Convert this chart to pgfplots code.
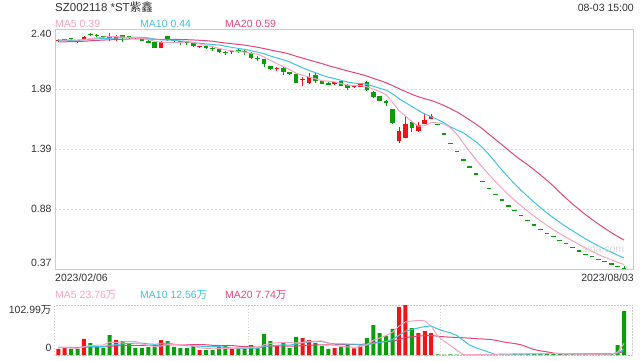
\documentclass[border=0pt]{standalone}
\usepackage{pgfplots}
\pgfplotsset{compat=1.18}
\usepackage{pgfplotstable}
\usepackage{fontspec}
\setmainfont{Liberation Sans}
\newfontfamily\cjk{Noto Sans CJK SC}
\definecolor{maA}{HTML}{F7A3C0}
\definecolor{maB}{HTML}{3EC4E4}
\definecolor{maC}{HTML}{E5457E}
\definecolor{up}{HTML}{F01414}
\definecolor{dn}{HTML}{0A9E0A}
\definecolor{txt}{HTML}{333333}
\definecolor{frame}{HTML}{CCCCCC}
\definecolor{gridc}{HTML}{DDDDDD}

\pgfplotstableread{
i O H L C V m5 m10 m20 v5 v10 v20 s
0 2.300 2.315 2.295 2.310 12.4 2.310 2.305 2.293 15.28 15.64 15.82 1
1 2.305 2.312 2.298 2.305 15.0 2.309 2.306 2.294 15.08 15.54 15.77 1
2 2.320 2.325 2.310 2.315 12.4 2.310 2.307 2.296 14.36 15.18 15.59 -1
3 2.305 2.310 2.285 2.300 12.4 2.308 2.307 2.297 13.64 14.82 15.41 -1
4 2.318 2.340 2.315 2.335 33.0 2.313 2.311 2.299 17.04 16.52 16.26 1
5 2.360 2.370 2.340 2.350 24.7 2.321 2.316 2.303 19.50 17.39 16.70 -1
6 2.355 2.358 2.335 2.345 18.5 2.329 2.319 2.306 20.20 17.64 16.82 -1
7 2.340 2.345 2.320 2.335 14.4 2.333 2.322 2.309 20.60 17.48 16.74 -1
8 2.335 2.370 2.300 2.330 41.2 2.339 2.324 2.311 26.36 20.00 18.00 -1
9 2.320 2.355 2.300 2.335 30.9 2.339 2.326 2.314 25.94 21.49 18.75 1
10 2.350 2.352 2.290 2.325 28.8 2.334 2.328 2.316 26.76 23.13 19.39 -1
11 2.335 2.345 2.320 2.330 24.7 2.331 2.330 2.318 28.00 24.10 19.82 -1
12 2.330 2.335 2.315 2.325 14.4 2.329 2.331 2.319 28.00 24.30 19.74 -1
13 2.315 2.320 2.300 2.305 14.4 2.324 2.332 2.319 22.64 24.50 19.66 -1
14 2.305 2.310 2.280 2.285 16.5 2.314 2.327 2.319 19.76 22.85 19.69 -1
15 2.290 2.295 2.240 2.245 16.5 2.298 2.316 2.316 17.30 22.03 19.71 -1
16 2.245 2.300 2.240 2.295 30.9 2.291 2.311 2.315 18.54 23.27 20.46 1
17 2.340 2.345 2.305 2.315 28.8 2.289 2.309 2.315 21.42 24.71 21.10 -1
18 2.315 2.320 2.285 2.300 16.5 2.288 2.306 2.315 21.84 22.24 21.12 -1
19 2.292 2.300 2.270 2.287 14.4 2.288 2.301 2.314 21.42 20.59 21.04 -1
20 2.285 2.290 2.270 2.280 14.4 2.295 2.297 2.312 21.00 19.15 21.14 -1
21 2.280 2.290 2.250 2.255 18.5 2.287 2.289 2.310 18.52 18.53 21.32 -1
22 2.250 2.262 2.238 2.255 10.3 2.275 2.282 2.307 14.82 18.12 21.21 1
23 2.250 2.262 2.235 2.245 10.3 2.264 2.276 2.304 13.58 17.71 21.11 -1
24 2.240 2.250 2.220 2.230 10.3 2.253 2.271 2.299 12.76 17.09 19.97 -1
25 2.230 2.235 2.200 2.205 16.5 2.238 2.267 2.291 13.18 17.09 19.56 -1
26 2.208 2.215 2.180 2.200 18.5 2.227 2.257 2.284 13.18 15.85 19.56 -1
27 2.205 2.225 2.190 2.210 12.4 2.218 2.247 2.278 13.60 14.21 19.46 1
28 2.220 2.235 2.200 2.215 14.4 2.212 2.238 2.272 14.42 14.00 18.12 -1
29 2.212 2.225 2.185 2.205 12.4 2.207 2.230 2.266 14.84 13.80 17.20 -1
30 2.200 2.205 2.150 2.160 20.6 2.198 2.218 2.257 15.66 14.42 16.79 -1
31 2.158 2.170 2.135 2.150 14.4 2.188 2.208 2.248 14.84 14.01 16.27 -1
32 2.150 2.152 2.080 2.105 43.3 2.167 2.193 2.237 21.02 17.31 17.72 -1
33 2.090 2.092 2.058 2.060 28.8 2.136 2.174 2.225 23.90 19.16 18.44 -1
34 2.065 2.085 2.045 2.070 18.5 2.109 2.158 2.214 25.12 19.98 18.54 1
35 2.075 2.080 2.013 2.040 24.7 2.085 2.142 2.204 25.94 20.80 18.95 -1
36 2.036 2.040 2.015 2.020 14.4 2.059 2.124 2.190 25.94 20.39 18.12 -1
37 2.020 2.022 1.945 1.950 37.1 2.028 2.098 2.172 24.70 22.86 18.54 -1
38 1.970 2.000 1.920 1.975 35.0 2.011 2.074 2.156 25.94 24.92 19.46 1
39 1.943 2.033 1.935 1.994 30.9 1.996 2.052 2.141 28.42 26.77 20.29 1
40 2.010 2.030 1.950 1.965 24.7 1.981 2.033 2.125 28.42 27.18 20.80 -1
41 1.965 1.970 1.935 1.940 18.5 1.965 2.012 2.110 29.24 27.59 20.80 -1
42 1.950 1.955 1.925 1.930 12.4 1.961 1.994 2.093 24.30 24.50 20.91 -1
43 1.940 1.955 1.925 1.945 14.4 1.955 1.983 2.078 20.18 23.06 21.11 1
44 1.965 1.970 1.918 1.923 16.5 1.941 1.968 2.063 17.30 22.86 21.42 -1
45 1.930 1.935 1.886 1.900 22.0 1.928 1.954 2.048 16.76 22.59 21.70 -1
46 1.912 1.922 1.905 1.915 13.8 1.923 1.944 2.034 15.82 22.53 21.46 1
47 1.915 1.948 1.912 1.943 19.2 1.925 1.943 2.020 17.18 20.74 21.80 1
48 1.957 1.965 1.880 1.887 35.0 1.914 1.934 2.004 21.30 20.74 22.83 -1
49 1.872 1.875 1.820 1.830 61.8 1.895 1.918 1.985 30.36 23.83 25.30 -1
50 1.836 1.840 1.790 1.796 45.3 1.874 1.901 1.967 35.02 25.89 26.54 -1
51 1.785 1.800 1.750 1.780 39.1 1.847 1.885 1.948 40.08 27.95 27.77 -1
52 1.723 1.725 1.600 1.610 53.6 1.781 1.853 1.924 46.96 32.07 28.29 -1
53 1.453 1.571 1.440 1.542 98.9 1.712 1.813 1.898 59.74 40.52 31.79 1
54 1.478 1.667 1.478 1.600 102.99 1.666 1.780 1.874 67.98 49.17 36.02 1
55 1.613 1.620 1.534 1.563 55.6 1.619 1.747 1.850 70.04 52.53 37.56 -1
56 1.542 1.618 1.534 1.590 45.3 1.581 1.714 1.829 71.28 55.68 39.11 1
57 1.600 1.690 1.595 1.633 49.4 1.586 1.683 1.813 70.44 58.70 39.72 1
58 1.641 1.684 1.640 1.670 45.3 1.611 1.661 1.798 59.72 59.73 40.24 1
59 1.59 1.59 1.59 1.59 1.5 1.609 1.637 1.778 39.42 53.70 38.77 -1
60 1.51 1.51 1.51 1.51 0.8 1.599 1.609 1.755 28.46 49.25 37.57 -1
61 1.43 1.43 1.43 1.43 1.2 1.567 1.574 1.729 19.64 45.46 36.71 -1
62 1.36 1.36 1.36 1.36 1.0 1.512 1.549 1.701 9.96 40.20 36.14 -1
63 1.29 1.29 1.29 1.29 0.6 1.436 1.524 1.668 1.02 30.37 35.45 -1
64 1.23 1.23 1.23 1.23 1.4 1.364 1.487 1.633 1.00 20.21 34.69 -1
65 1.17 1.17 1.17 1.17 1.0 1.296 1.447 1.597 1.04 14.75 33.64 -1
66 1.11 1.11 1.11 1.11 1.2 1.232 1.399 1.557 1.04 10.34 33.01 -1
67 1.05 1.05 1.05 1.05 1.5 1.170 1.341 1.512 1.14 5.55 32.13 -1
68 1.00 1.00 1.00 1.00 2.0 1.112 1.274 1.468 1.42 1.22 30.48 -1
69 0.95 0.95 0.95 0.95 2.5 1.056 1.210 1.424 1.64 1.32 27.51 -1
70 0.90 0.90 0.90 0.90 2.0 1.002 1.149 1.379 1.84 1.44 25.35 -1
71 0.86 0.86 0.86 0.86 3.0 0.952 1.092 1.333 2.20 1.62 23.54 -1
72 0.82 0.82 0.82 0.82 2.5 0.906 1.038 1.293 2.40 1.77 20.99 -1
73 0.78 0.78 0.78 0.78 3.0 0.862 0.987 1.255 2.60 2.01 16.19 -1
74 0.74 0.74 0.74 0.74 3.5 0.820 0.938 1.212 2.80 2.22 11.22 -1
75 0.70 0.70 0.70 0.70 2.5 0.780 0.891 1.169 2.90 2.37 8.56 -1
76 0.67 0.67 0.67 0.67 4.0 0.742 0.847 1.123 3.10 2.65 6.50 -1
77 0.64 0.64 0.64 0.64 2.5 0.706 0.806 1.074 3.10 2.75 4.15 -1
78 0.61 0.61 0.61 0.61 3.7 0.672 0.767 1.021 3.24 2.92 2.07 -1
79 0.58 0.58 0.58 0.58 1.5 0.640 0.730 0.970 2.84 2.82 2.07 -1
80 0.55 0.55 0.55 0.55 1.2 0.610 0.695 0.922 2.58 2.74 2.09 -1
81 0.52 0.52 0.52 0.52 1.5 0.580 0.661 0.877 2.08 2.59 2.11 -1
82 0.49 0.49 0.49 0.49 1.3 0.550 0.628 0.833 1.84 2.47 2.12 -1
83 0.47 0.47 0.47 0.47 1.3 0.522 0.597 0.792 1.36 2.30 2.16 -1
84 0.45 0.45 0.45 0.45 2.5 0.496 0.568 0.753 1.56 2.20 2.21 -1
85 0.43 0.43 0.43 0.43 2.6 0.472 0.541 0.716 1.84 2.21 2.29 -1
86 0.41 0.41 0.41 0.41 2.5 0.450 0.515 0.681 2.04 2.06 2.36 -1
87 0.39 0.39 0.39 0.39 20.6 0.430 0.490 0.648 5.90 3.87 3.31 -1
88 0.375 0.40 0.37 0.37 90.6 0.410 0.466 0.617 23.76 12.56 7.74 -1
}\data

\pgfplotsset{
  upday/.style={restrict expr to domain={\thisrow{s}}{0.5:1.5}},
  downday/.style={restrict expr to domain={\thisrow{s}}{-1.5:-0.5}},
  candle/.style 2 args={only marks, mark size=0pt, mark options={draw=none, fill=none}, forget plot,
      error bars/y dir=plus, error bars/y explicit, error bars/error mark=none,
      error bars/error bar style={line width=#2, draw=#1, solid}},
}

\begin{document}
\begin{tikzpicture}[font=\fontsize{10.5}{12}\selectfont]
\useasboundingbox (0,0) rectangle (640pt,360pt);

\begin{axis}[
  at={(55pt,90.7pt)}, anchor=south west, scale only axis,
  width=578pt, height=240pt,
  xmin=-0.51, xmax=89.39, ymin=0.37, ymax=2.40,
  axis line style={draw=frame, line width=0.9pt},
  xtick=\empty,
  ytick={0.8775,1.385,1.8925}, yticklabels={0.88,1.39,1.89},
  extra y ticks={0.421,2.36}, extra y tick labels={0.37,2.40},
  extra y tick style={grid=none},
  ymajorgrids, grid style={draw=gridc, line width=1.3pt, dash pattern=on 2pt off 2pt},
  tick style={draw=none}, major tick length=0pt,
  tick label style={text=txt, font=\fontsize{10.5}{12}\selectfont},
]
% wicks
\addplot[upday, candle={up}{0.9pt}] table[x=i, y=L, y error plus expr={\thisrow{H}-\thisrow{L}}]{\data};
\addplot[downday, candle={dn}{0.9pt}] table[x=i, y=L, y error plus expr={\thisrow{H}-\thisrow{L}}]{\data};
% bodies
\addplot[upday, candle={up}{4.6pt}] table[x=i, y expr={min(\thisrow{O},\thisrow{C})}, y error plus expr={max(abs(\thisrow{C}-\thisrow{O}),0.011)}]{\data};
\addplot[downday, candle={dn}{4.6pt}] table[x=i, y expr={min(\thisrow{O},\thisrow{C})}, y error plus expr={max(abs(\thisrow{C}-\thisrow{O}),0.011)}]{\data};
% moving averages
\addplot[no marks, maC, line width=1pt] table[x=i, y=m20]{\data};
\addplot[no marks, maB, line width=1pt] table[x=i, y=m10]{\data};
\addplot[no marks, maA, line width=1pt] table[x=i, y=m5]{\data};
\end{axis}

\begin{axis}[
  at={(55pt,5pt)}, anchor=south west, scale only axis,
  width=578pt, height=50pt,
  xmin=-0.51, xmax=89.39, ymin=0, ymax=102.99,
  axis line style={draw=frame, line width=1pt, dash pattern=on 1.5pt off 1.5pt},
  xtick={29.5,59.5}, xticklabels={{},{}},
  xmajorgrids, grid style={draw=frame, line width=0.8pt, dash pattern=on 1.5pt off 1.5pt},
  ytick=\empty,
  extra y ticks={14.4,92}, extra y tick labels={0,102.99{\cjk 万}},
  extra y tick style={grid=none},
  tick style={draw=none}, major tick length=0pt,
  tick label style={text=txt, font=\fontsize{10.5}{12}\selectfont},
]
\addplot[ybar, bar width=4pt, bar shift=0pt, fill=up, draw=none, upday] table[x=i, y=V]{\data};
\addplot[ybar, bar width=4pt, bar shift=0pt, fill=dn, draw=none, downday] table[x=i, y=V]{\data};
\addplot[no marks, maC, line width=1pt] table[x=i, y=v20]{\data};
\addplot[no marks, maB, line width=1pt] table[x=i, y=v10]{\data};
\addplot[no marks, maA, line width=1pt] table[x=i, y=v5]{\data};
\end{axis}

% header and labels
\node[anchor=base west, inner sep=0pt, text=txt, font=\fontsize{11.5}{13}\selectfont] at (55pt,348.5pt) {SZ002118 *ST{\cjk 紫鑫}};
\node[anchor=base east, inner sep=0pt, text=txt] at (634pt,349pt) {08-03 15:00};
\node[anchor=base west, inner sep=0pt, text=maA] at (55pt,332.5pt) {MA5 0.39};
\node[anchor=base west, inner sep=0pt, text=maB] at (140pt,332.5pt) {MA10 0.44};
\node[anchor=base west, inner sep=0pt, text=maC] at (225pt,332.5pt) {MA20 0.59};
\node[anchor=base west, inner sep=0pt, text=txt] at (55pt,78.3pt) {2023/02/06};
\node[anchor=base east, inner sep=0pt, text=txt] at (634pt,78.3pt) {2023/08/03};
\node[anchor=base west, inner sep=0pt, text=maA] at (55pt,61.7pt) {MA5 23.76{\cjk 万}};
\node[anchor=base west, inner sep=0pt, text=maB] at (140pt,61.7pt) {MA10 12.56{\cjk 万}};
\node[anchor=base west, inner sep=0pt, text=maC] at (225pt,61.7pt) {MA20 7.74{\cjk 万}};
\node[anchor=base west, inner sep=0pt, text=black!15, font=\fontsize{10.5}{12}\selectfont] at (582pt,108pt) {sina.com};
\end{tikzpicture}
\end{document}
